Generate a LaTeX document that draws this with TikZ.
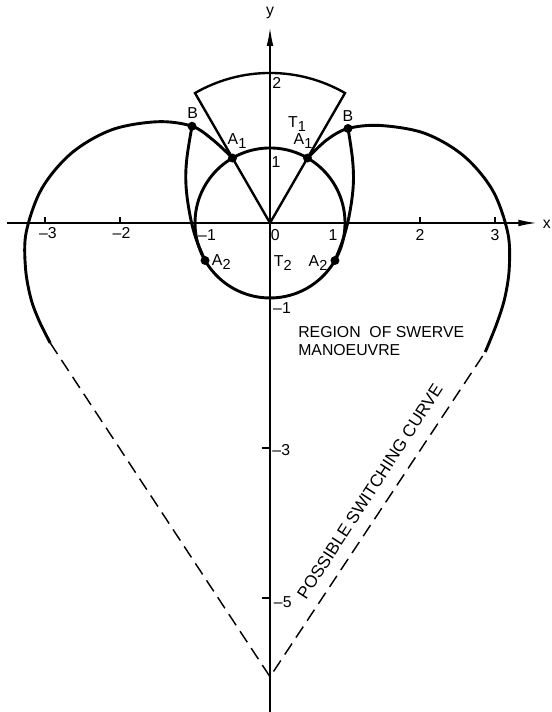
\documentclass[tikz,border=0pt]{standalone}
\usepackage{fontspec}
\setmainfont{Liberation Sans}
\usetikzlibrary{arrows.meta}
\begin{document}
\begin{tikzpicture}[x=1cm,y=1cm,
  curve/.style={line width=1.1pt, line join=round},
  sect/.style={line width=0.9pt, line join=miter},
  axis/.style={line width=0.65pt},
  axarrow/.style={-{Latex[length=2.5mm,width=0.9mm]}},
  sw/.style={line width=0.55pt, dash pattern=on 5pt off 2.7pt},
  lbl/.style={font=\fontsize{6}{6.8}\selectfont, inner sep=0pt},
  dot/.style={circle, fill, inner sep=0pt, minimum size=3.4pt}
]
\useasboundingbox (-3.6,-6.52) rectangle (3.747,2.973);

% key points
\coordinate (O) at (0,0);
\coordinate (xl) at (-3.5,0);
\coordinate (xr) at (3.56,0);
\coordinate (yb) at (0,-6.6);
\coordinate (yt) at (0,2.61);
\coordinate (V) at (0,-6.05);
\coordinate (Lend) at (-2.93,-1.6);
\coordinate (Rend) at (2.87,-1.72);

% axes
\draw[axis,axarrow] (xl) -- (xr);
\draw[axis,axarrow] (yb) -- (yt);
\foreach \t in {-3,-2,2,3} \draw[axis] (\t,0) -- (\t,0.08);
\foreach \t in {-3,-5} \draw[axis] (-0.11,\t) -- (0,\t);

% unit circle and sector
\draw[curve] (O) circle (1);
\draw[sect] (O) -- (60:2) arc (60:120:2) -- cycle;

% lobes
\draw[curve] plot[smooth, tension=0.55] coordinates {
  (-0.5,0.866) (-0.76,1.107) (-1.04,1.29) (-1.5,1.35) (-2.109,1.243)
  (-2.644,0.934) (-3.042,0.46) (-3.25,-0.12) (-3.26,-0.6) (-3.19,-1.0) (-3.08,-1.3) (-2.93,-1.6)};
\draw[curve] plot[smooth, tension=0.55] coordinates {
  (0.5,0.866) (0.76,1.11) (1.04,1.26) (1.47,1.30) (2.062,1.196)
  (2.582,0.895) (2.968,0.435) (3.17,-0.13) (3.19,-0.6) (3.13,-1.0) (3.02,-1.35) (2.87,-1.72)};

% B - A2 curves
\draw[curve] plot[smooth, tension=0.6] coordinates {
  (-1.04,1.29) (-1.11,0.85) (-1.12,0.5) (-1.07,0.12) (-0.99,-0.2) (-0.866,-0.5)};
\draw[curve] plot[smooth, tension=0.6] coordinates {
  (1.04,1.26) (1.1,0.85) (1.11,0.5) (1.06,0.12) (0.98,-0.2) (0.866,-0.5)};

% switching curve
\draw[sw] (Lend) -- (V) -- (Rend);

% dots
\node[dot] (A1l) at (120:1) {};
\node[dot] (A1r) at (60:1) {};
\node[dot] (A2l) at (210:1) {};
\node[dot] (A2r) at (-30:1) {};
\node[dot] (Bl) at (-1.04,1.29) {};
\node[dot] (Br) at (1.04,1.26) {};

% labels
\node[lbl] (ly) at (0,2.8) {y};
\node[lbl] (lx) at (3.69,-0.02) {x};
\node[lbl] (l2) at (0.09,1.87) {2};
\node[lbl] (l1) at (0.08,0.81) {1};
\node[lbl] (l0) at (0.07,-0.16) {0};
\node[lbl] (lm1y) at (0.16,-1.13) {--1};
\node[lbl] (lm3y) at (0.15,-3.03) {--3};
\node[lbl] (lm5y) at (0.17,-5.05) {--5};
\node[lbl] (lm3x) at (-2.96,-0.13) {--3};
\node[lbl] (lm2x) at (-1.98,-0.13) {--2};
\node[lbl] (lm1x) at (-0.84,-0.16) {--1};
\node[lbl] (lp1x) at (0.84,-0.16) {1};
\node[lbl] (lp2x) at (2.0,-0.16) {2};
\node[lbl] (lp3x) at (3.0,-0.16) {3};

\node[lbl] (tBl) at (-1.03,1.47) {B};
\node[lbl] (tBr) at (1.04,1.42) {B};
\node[lbl] (tA1l) at (-0.44,1.09) {A\raisebox{-0.5ex}{\fontsize{5.5}{5.5}\selectfont 1}};
\node[lbl] (tA1r) at (0.44,1.09) {A\raisebox{-0.5ex}{\fontsize{5.5}{5.5}\selectfont 1}};
\node[lbl] (tT1) at (0.36,1.32) {T\raisebox{-0.5ex}{\fontsize{5.5}{5.5}\selectfont 1}};
\node[lbl] (tA2l) at (-0.65,-0.52) {A\raisebox{-0.5ex}{\fontsize{5.5}{5.5}\selectfont 2}};
\node[lbl] (tA2r) at (0.64,-0.53) {A\raisebox{-0.5ex}{\fontsize{5.5}{5.5}\selectfont 2}};
\node[lbl] (tT2) at (0.17,-0.53) {T\raisebox{-0.5ex}{\fontsize{5.5}{5.5}\selectfont 2}};

\node[lbl, anchor=west, align=left] (region) at (0.37,-1.58) {REGION\ \ OF SWERVE\\MANOEUVRE};
\node[lbl, font=\fontsize{6.5}{7}\selectfont, rotate=57] (switch) at (1.33,-3.58) {POSSIBLE SWITCHING CURVE};
\end{tikzpicture}
\end{document}
